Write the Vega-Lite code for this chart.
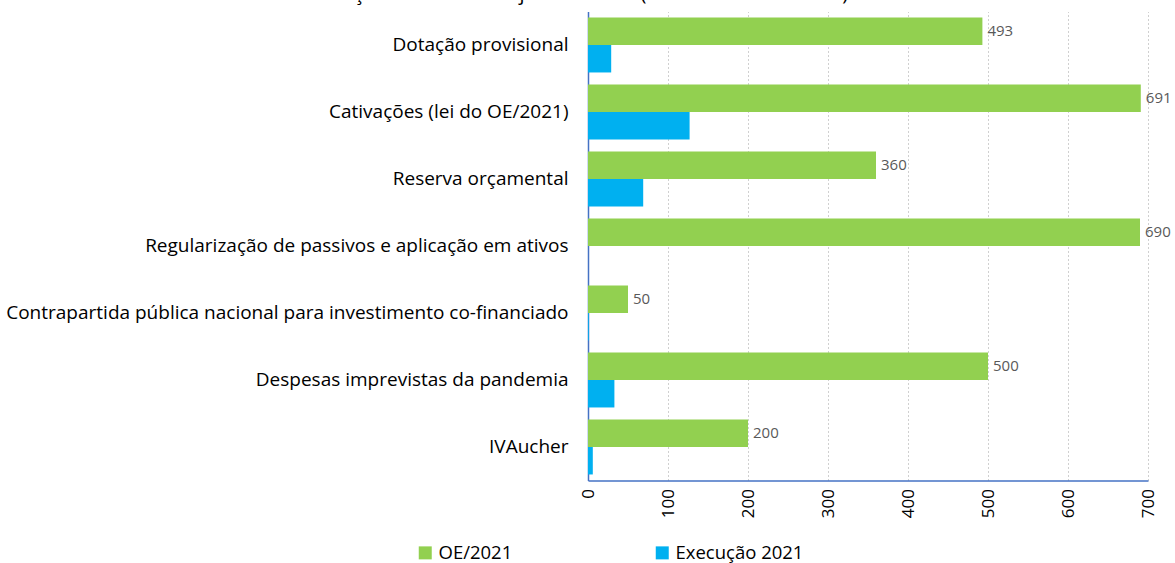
{
  "$schema": "https://vega.github.io/schema/vega-lite/v6.json",
  "autosize": {"type": "none"},
  "width": 560,
  "height": 469,
  "padding": {"left": 588, "top": 11.5, "right": 27, "bottom": 82.5},
  "background": "white",
  "title": {
    "text": "Execução do OE e dos ajustamentos (em milhões de euros)",
    "font": "Open Sans",
    "fontSize": 20,
    "fontWeight": "normal",
    "color": "#000000",
    "anchor": "middle",
    "frame": "bounds",
    "baseline": "alphabetic",
    "offset": 0,
    "dy": 8,
    "dx": -15
  },
  "config": {
    "view": {"stroke": null},
    "font": "Open Sans"
  },
  "data": {
    "values": [
      {"medida": "Dotação provisional", "serie": "OE/2021", "valor": 493},
      {"medida": "Dotação provisional", "serie": "Execução 2021", "valor": 29},
      {"medida": "Cativações (lei do OE/2021)", "serie": "OE/2021", "valor": 691},
      {"medida": "Cativações (lei do OE/2021)", "serie": "Execução 2021", "valor": 127},
      {"medida": "Reserva orçamental", "serie": "OE/2021", "valor": 360},
      {"medida": "Reserva orçamental", "serie": "Execução 2021", "valor": 69},
      {"medida": "Regularização de passivos e aplicação em ativos", "serie": "OE/2021", "valor": 690},
      {"medida": "Regularização de passivos e aplicação em ativos", "serie": "Execução 2021", "valor": 0},
      {"medida": "Contrapartida pública nacional para investimento co-financiado", "serie": "OE/2021", "valor": 50},
      {"medida": "Contrapartida pública nacional para investimento co-financiado", "serie": "Execução 2021", "valor": 1},
      {"medida": "Despesas imprevistas da pandemia", "serie": "OE/2021", "valor": 500},
      {"medida": "Despesas imprevistas da pandemia", "serie": "Execução 2021", "valor": 33},
      {"medida": "IVAucher", "serie": "OE/2021", "valor": 200},
      {"medida": "IVAucher", "serie": "Execução 2021", "valor": 6}
    ]
  },
  "encoding": {
    "y": {
      "field": "medida",
      "type": "nominal",
      "sort": null,
      "scale": {"paddingInner": 0.18, "paddingOuter": 0.09},
      "axis": {
        "title": null,
        "ticks": false,
        "domainColor": "#4472C4",
        "domainWidth": 1.5,
        "labelFontSize": 19,
        "labelColor": "#000000",
        "labelPadding": 20,
        "labelLimit": 0,
        "grid": false
      }
    },
    "yOffset": {
      "field": "serie",
      "type": "nominal",
      "sort": ["OE/2021", "Execução 2021"]
    },
    "x": {
      "field": "valor",
      "type": "quantitative",
      "scale": {"domain": [0, 700], "nice": false},
      "axis": {
        "title": null,
        "values": [0, 100, 200, 300, 400, 500, 600, 700],
        "ticks": false,
        "labelAngle": -90,
        "labelFontSize": 17,
        "labelColor": "#000000",
        "labelPadding": 8,
        "domainColor": "#4472C4",
        "domainWidth": 1.5,
        "grid": true,
        "gridColor": "#d0d0d0",
        "gridDash": [2, 2],
        "gridWidth": 1
      }
    }
  },
  "layer": [
    {
      "mark": {"type": "bar"},
      "encoding": {
        "color": {
          "field": "serie",
          "type": "nominal",
          "sort": ["OE/2021", "Execução 2021"],
          "scale": {"domain": ["OE/2021", "Execução 2021"], "range": ["#92D050", "#00B0F0"]},
          "legend": {
            "title": null,
            "orient": "none",
            "direction": "horizontal",
            "legendX": -172,
            "legendY": 532,
            "symbolType": "square",
            "symbolSize": 169,
            "symbolStrokeWidth": 0,
            "labelFontSize": 18.5,
            "labelColor": "#000000",
            "labelOffset": 4,
            "columnPadding": 140
          }
        }
      }
    },
    {
      "transform": [{"filter": "datum.serie === 'OE/2021'"}],
      "mark": {"type": "text", "align": "left", "baseline": "middle", "dx": 5, "fontSize": 15, "color": "#595959"},
      "encoding": {
        "text": {"field": "valor", "type": "quantitative"}
      }
    }
  ]
}
